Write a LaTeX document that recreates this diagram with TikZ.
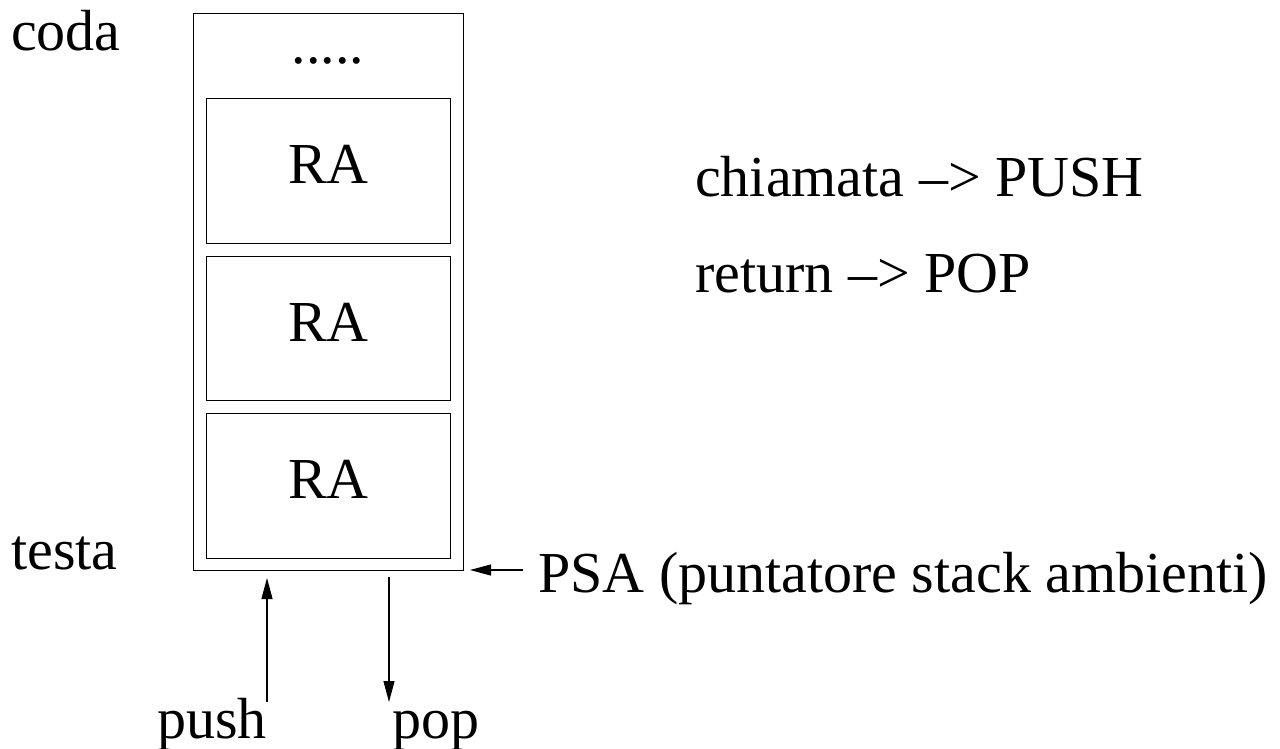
\documentclass[tikz,border=0pt]{standalone}
\usepackage{fontspec}
\setmainfont{Liberation Serif}
\usetikzlibrary{arrows.meta}
\tikzset{
  lbl/.style={inner sep=0pt, anchor=base west, font=\fontsize{58}{60}\selectfont},
  ralbl/.style={inner sep=0pt, anchor=base, font=\fontsize{58}{60}\selectfont},
  frame/.style={draw, line width=1.1pt, inner sep=0pt, anchor=north west},
  link/.style={line width=1.1pt, -{Triangle[length=21pt,width=11pt]}}
}
\begin{document}
\begin{tikzpicture}[x=1pt,y=-1pt]
\useasboundingbox (0,0) rectangle (1280,748);

% stack container and activation records
\node[frame, minimum width=270pt, minimum height=557pt] (stack) at (193,13) {};
\node[frame, minimum width=244pt, minimum height=145pt] (ra1) at (206,98) {};
\node[frame, minimum width=244pt, minimum height=144pt] (ra2) at (206,256) {};
\node[frame, minimum width=244pt, minimum height=145pt] (ra3) at (206,413) {};
\node[ralbl] (t1) at ([yshift=-12.5pt]ra1.center) {RA};
\node[ralbl] (t2) at ([yshift=-12.5pt]ra2.center) {RA};
\node[ralbl] (t3) at ([yshift=-12.5pt]ra3.center) {RA};
\node[ralbl] (dots) at (328,63) {.....};

% side labels
\node[lbl] (coda) at (11,50) {coda};
\node[lbl] (testa) at (11,569) {testa};
\node[lbl] (call) at (695,196) {chiamata –> PUSH};
\node[lbl] (ret) at (695,292) {return –> POP};
\node[lbl] (psa) at (538,592) {PSA (puntatore stack ambienti)};
\node[lbl] (push) at (157,738) {push};
\node[lbl] (pop) at (392,738) {pop};

% arrows
\coordinate (psaTail) at (523,570);
\coordinate (psaTip) at (470,570);
\coordinate (pushTail) at (267,702);
\coordinate (pushTip) at (267,578);
\coordinate (popTail) at (389,577);
\coordinate (popTip) at (389,702);
\draw[link] (psaTail) -- (psaTip);
\draw[link] (pushTail) -- (pushTip);
\draw[link] (popTail) -- (popTip);
\end{tikzpicture}
\end{document}
